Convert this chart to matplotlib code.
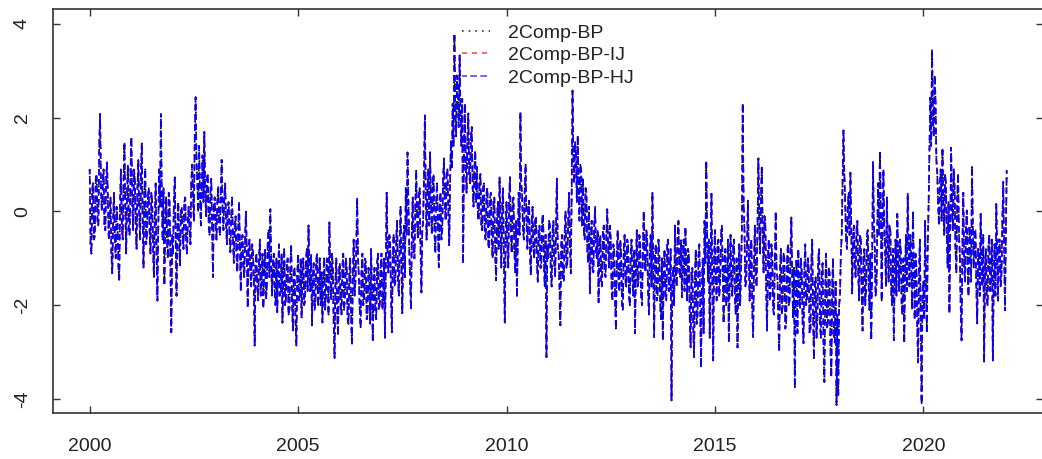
import numpy as np
import matplotlib
matplotlib.use("Agg")
import matplotlib.pyplot as plt

plt.rcParams['font.family'] = ['Liberation Sans', 'DejaVu Sans']

# Values, ~48 samples per year (weekly-ish)
y2000 = [0.9, -0.7, -0.9, 0.5, 0.6, -0.6, -0.5, 0.7, 0.8, -0.2, -0.3, 1.4,
         2.08, 0.5, 0.0, 0.6, 0.9, -0.3, -0.4, 0.7, 1.05, 0.2, -0.6, -0.1,
         0.3, -0.9, -1.32, -0.2, 0.4, -0.6, -1.0, 0.1, -0.2, -1.1, -1.5, 0.2,
         0.9, -0.3, -0.6, 0.6, 1.48, 0.1, -0.9, 0.3, 1.0, -0.4, -0.5, 0.8]
y2001 = [1.58, 0.2, -0.4, 0.9, 0.7, -0.3, -0.8, 0.5, 1.1, 0.0, -0.6, 0.8,
         1.45, -0.2, -1.2, 0.4, 0.9, -0.7, -0.5, 0.3, 0.5, -0.4, -0.9, 0.4,
         0.2, -0.8, -1.4, -0.1, 0.6, -0.9, -1.9, -0.3, 0.9, 0.1, 2.08, 0.4,
         -0.6, 0.5, -1.58, -0.4, 0.3, -0.6, -1.0, 0.4, 0.2, -1.2, -2.58, -0.5]
y2002 = [-0.9, 0.2, 0.73, -0.6, -1.8, -0.4, 0.2, -0.7, -1.15, 0.0, 0.1, -0.5,
         -0.8, 0.2, 0.3, -0.6, -0.9, -0.2, 0.1, -0.3, -0.7, 0.6, 1.0, 0.3,
         -0.2, 1.6, 2.44, 1.1, 0.6, 0.0, 1.4, 0.4, -0.3, 0.6, 1.2, 0.2,
         1.7, 0.5, -0.1, 0.7, 0.8, -0.2, -0.5, 0.4, 0.7, -0.3, -1.4, 0.2]
y2003 = [0.3, -0.2, -0.6, 0.2, 0.55, -0.3, -0.5, 0.4, 1.1, 0.1, -0.4, 0.3,
         0.6, -0.2, -0.7, 0.1, 0.2, -0.5, -0.87, -0.1, 0.3, -0.6, -1.1, -0.3,
         -0.1, -0.9, -1.3, -0.4, 0.2, -0.8, -1.7, -0.6, -0.5, -1.2, -1.4, -0.5,
         0.0, -1.0, -2.05, -0.8, -0.6, -1.3, -1.6, -0.7, -0.8, -1.5, -2.86, -1.1]
y2004 = [-0.9, -1.6, -1.9, -1.0, -0.6, -1.8, -1.5, -0.9, -2.05, -1.2, -0.8, -1.9,
         -1.6, -0.7, -0.4, -1.4, 0.05, -1.0, -1.8, -1.1, -0.9, -1.7, -2.0, -1.0,
         -2.15, -1.3, -0.7, -1.8, -1.7, -0.9, -2.37, -1.4, -0.8, -2.0, -1.9, -1.1,
         -1.0, -2.2, -2.1, -1.2, -0.7, -1.9, -2.54, -1.3, -1.2, -2.3, -2.86, -1.4]
y2005 = [-0.9, -1.9, -1.8, -1.0, -2.26, -1.3, -1.0, -2.0, -1.9, -1.1, -0.8, -1.7,
         -0.3, -1.2, -1.7, -0.9, -2.43, -1.4, -1.1, -2.1, -1.9, -1.0, -0.9, -2.0,
         -1.6, -1.0, -2.0, -1.3, -2.37, -1.5, -1.0, -2.1, -1.8, -1.0, -1.1, -2.2,
         -0.23, -1.2, -1.9, -0.9, -1.2, -2.4, -3.13, -1.5, -1.0, -2.2, -2.64, -1.3]
y2006 = [-1.1, -2.0, -2.2, -1.2, -0.9, -2.1, -1.8, -1.0, -1.2, -2.3, -2.4, -1.3,
         -1.0, -2.2, -2.86, -1.4, -0.6, -1.8, -1.5, -0.8, 0.3, -1.0, -1.4, -2.1,
         -2.47, -1.3, -0.9, -2.0, -1.9, -1.0, -1.1, -2.3, -2.2, -1.2, -1.3, -2.4,
         -0.8, -1.6, -2.79, -1.5, -1.2, -2.2, -2.3, -1.1, -0.9, -2.1, -2.0, -1.2]
y2007 = [-0.9, -2.1, -1.9, -1.0, -2.7, -1.2, 0.4, -0.9, -1.3, -0.5, -0.6, -1.8,
         -2.58, -1.0, -0.5, -1.6, -1.5, -0.6, -0.2, -1.4, -1.8, -0.7, 0.1, -1.2,
         -2.17, -0.6, -0.3, -1.4, 0.5, -0.5, 1.26, 0.2, -0.8, -1.5, -2.07, -0.4,
         0.3, -0.9, -1.0, 0.1, 0.87, -0.2, -0.6, 0.3, 0.5, -0.8, -1.73, -0.4]
y2008 = [-0.2, 0.8, 2.05, 0.3, -0.6, 0.5, 0.9, -0.3, 1.26, 0.2, -0.5, 0.6,
         0.8, -0.4, -0.9, 0.2, 0.6, -0.3, -1.19, 0.1, 0.4, -0.6, -0.4, 0.7,
         1.13, 0.1, -0.2, 0.8, 0.9, 0.0, -0.72, 0.6, 1.5, 0.9, 2.3, 1.4,
         3.8, 2.2, 1.6, 2.9, 2.6, 1.8, 3.33, 2.1, 1.4, 2.4, -1.11, 1.2]
y2009 = [2.3, 1.0, 0.4, 1.5, 2.09, 0.8, 0.6, 1.6, 1.8, 0.5, 0.1, 0.9,
         1.3, 0.2, 0.95, -0.1, -0.2, 0.7, 0.8, -0.3, -0.4, 0.5, 0.6, -0.5,
         -0.6, 0.4, 0.5, -0.7, -0.8, 0.3, 0.4, -0.6, -1.0, 0.2, 0.3, -0.9,
         -1.47, -0.2, 0.2, -0.8, 0.73, -0.3, -1.2, 0.1, 0.5, -0.9, -2.37, -0.5]
y2010 = [0.2, -0.7, -1.2, 0.3, 0.73, -0.5, -0.9, 0.2, 0.3, -0.8, -1.3, -0.2,
         -1.83, -0.6, 0.4, -0.5, 2.12, 0.6, 0.3, -0.4, -0.6, 0.5, 1.0, -0.2,
         -0.8, 0.1, 0.23, -0.9, -1.36, -0.3, 0.1, -0.8, -1.0, -0.2, -0.1, -1.1,
         -1.5, -0.4, -0.3, -1.2, -1.2, -0.2, -0.05, -1.0, -1.6, -0.5, -3.11, -0.7]
y2011 = [-1.0, -0.2, -0.3, -1.3, -1.6, -0.4, -0.2, -1.1, -1.4, -0.3, 0.7, -0.8,
         -0.9, -1.6, -2.43, -0.7, -0.5, -1.4, -1.5, -0.4, 0.0, -1.2, -1.1, -0.2,
         0.4, -0.7, -1.32, 0.3, 2.58, 1.2, 0.6, 1.5, 1.2, 0.2, 1.62, 0.5,
         -0.2, 1.0, 0.9, -0.3, 0.73, -0.4, -0.6, 0.5, 0.4, -0.8, -1.1, 0.1]
y2012 = [-1.75, -0.6, -0.2, -1.2, -1.3, -0.3, 0.1, -0.9, -1.0, -0.4, -1.94, -0.8,
         -0.5, -1.5, -1.6, -0.4, -0.3, -1.3, -1.4, -0.5, 0.05, -0.8, -1.2, -0.3,
         -0.6, -1.6, -1.9, -0.7, -0.8, -1.9, -2.5, -1.0, -0.4, -1.4, -1.7, -0.6,
         -0.9, -2.0, -2.1, -0.8, -0.5, -1.5, -1.6, -0.6, -0.7, -1.8, -2.0, -0.9]
y2013 = [-0.6, -1.5, -1.8, -0.8, -2.6, -1.2, -0.4, -1.6, -1.5, -0.5, -0.7, -1.8,
         -2.0, -0.9, 0.0, -1.0, -1.3, -0.4, -0.6, -1.7, -2.2, -0.9, -0.5, -1.6,
         0.4, -1.2, -2.68, -0.9, -0.7, -1.9, -1.8, -0.6, -0.9, -2.0, -2.3, -1.0,
         -2.75, -1.3, -0.8, -1.8, -1.9, -0.7, -0.6, -1.7, -1.5, -0.8, -4.03, -1.6]
y2014 = [-1.2, -2.0, -0.3, -1.4, -1.6, -0.5, -0.2, -1.3, -1.4, -0.6, -1.83, -0.9,
         -0.6, -1.7, -0.33, -1.2, -1.9, -0.8, -0.9, -2.3, -2.9, -1.3, -1.2, -2.5,
         -3.11, -1.4, -0.8, -2.4, -2.2, -1.0, -0.7, -2.1, -3.33, -1.5, -1.0, -2.6,
         -0.2, -1.1, 1.09, -0.4, -1.5, -0.6, -2.7, -1.2, 0.38, -1.6, -3.18, -1.0]
y2015 = [-0.4, -1.5, -1.9, -0.7, -0.6, -1.8, -1.5, -0.5, -0.3, -1.4, -2.39, -1.0,
         -0.8, -2.0, -1.7, -0.6, -2.79, -1.3, -0.5, -1.6, -1.8, -0.7, -0.6, -1.9,
         -2.2, -1.0, -2.9, -1.4, -0.7, -2.0, -1.3, -0.4, 2.3, 0.2, -0.4, -1.6,
         -1.5, -0.6, 0.23, -1.0, -1.9, -0.8, -0.6, -2.1, -2.68, -1.1, -0.3, -1.4]
y2016 = [-1.6, -0.4, 1.13, -0.2, -0.9, 0.3, 0.98, -0.5, -1.3, -0.1, -0.2, -1.6,
         -2.54, -1.0, -0.6, -1.9, -1.8, -0.7, -0.9, -2.1, -2.2, -1.0, 0.0, -1.3,
         -1.4, -2.3, -3.0, -1.2, -0.8, -2.2, -2.0, -0.9, -1.0, -2.5, -2.4, -1.1,
         -0.7, -2.0, -1.9, -0.8, -0.13, -1.4, -2.3, -1.2, -3.75, -1.6, -1.0, -2.6]
y2017 = [-0.8, -1.8, -2.1, -1.0, -1.3, -2.4, -2.81, -1.2, -0.7, -2.0, -1.9, -1.0,
         -1.2, -2.6, -2.5, -1.1, -0.6, -2.2, -3.13, -1.5, -1.4, -2.7, -2.3, -1.0,
         -0.8, -2.4, -2.7, -1.3, -1.1, -2.8, -3.64, -1.7, -0.9, -2.5, -2.4, -1.2,
         -1.3, -2.9, -3.54, -1.6, -1.0, -2.6, -2.8, -1.5, -4.13, -2.2, -3.96, -2.0]
y2018 = [-1.8, -0.9, -0.5, 0.6, 1.73, 0.8, 0.2, -0.6, -0.8, 0.1, 0.4, -0.5,
         0.83, -0.3, -1.75, -0.6, -0.3, -1.2, -1.4, -0.4, -0.2, -1.3, -1.9, -0.5,
         -0.6, -1.8, -2.54, -1.0, -0.8, -2.0, -1.7, -0.5, -0.4, -1.6, -2.1, -0.9,
         -2.75, -1.2, 1.05, -0.2, -0.7, -1.8, -1.6, -0.3, 0.6, -0.5, 1.3, 0.2]
y2019 = [-1.9, -0.4, 0.9, -0.3, -0.8, -1.6, 0.3, -0.7, -1.5, -0.3, -0.4, -1.7,
         -2.0, -0.8, -2.75, -1.3, -0.6, -1.8, -0.05, -1.0, -1.7, -0.6, -0.8, -2.0,
         -2.2, -1.0, -2.81, -1.2, -0.5, -1.7, 0.38, -0.8, -1.6, -0.5, -0.9, -2.1,
         0.02, -1.1, -2.3, -0.9, -1.2, -2.5, -3.22, -1.3, -0.6, -2.4, -4.09, -1.8]
y2020 = [-1.5, -2.3, -0.2, -1.4, -2.6, -0.8, 0.1, 1.2, 2.43, 1.4, 3.47, 2.0,
         1.6, 2.9, 2.4, 1.1, 0.83, 0.2, -0.3, 0.6, 0.9, -0.2, 1.36, 0.3,
         -0.5, 0.8, 0.6, -0.6, -1.2, 0.2, -2.17, -0.4, 1.36, 0.1, -0.4, 0.9,
         0.5, -0.8, -1.3, 0.3, 0.8, -0.5, -0.9, -2.0, -2.75, -0.7, 0.4, -1.2]
y2021 = [-1.5, -0.4, 0.02, -1.2, -1.8, -0.3, -0.6, -1.5, 0.95, -0.3, -1.2, -0.4,
         -0.4, -1.6, -2.39, -0.8, -0.9, -1.8, -0.05, -1.0, -1.6, -0.5, -3.22, -1.2,
         -0.8, -1.9, -2.0, -0.7, -0.5, -1.7, -1.4, -0.6, -3.18, -1.5, -0.7, -1.8,
         0.16, -0.9, -1.9, -0.6, -0.6, -1.6, -1.3, -0.2, 0.63, -0.8, -2.11, -0.5]
y2022 = [0.88]

years = list(range(2000, 2023))
series_years = [y2000, y2001, y2002, y2003, y2004, y2005, y2006, y2007, y2008,
                y2009, y2010, y2011, y2012, y2013, y2014, y2015, y2016, y2017,
                y2018, y2019, y2020, y2021, y2022]

bp = np.concatenate(series_years)
bp_ij = bp.copy()   # visually indistinguishable from 2Comp-BP at this scale
bp_hj = bp.copy()
t = np.concatenate([yr + np.arange(len(v)) / max(len(v), 48)
                    for yr, v in zip(years, series_years)])

labels = ['2Comp-BP', '2Comp-BP-IJ', '2Comp-BP-HJ']
xticks = [2000, 2005, 2010, 2015, 2020]
yticks = [-4, -2, 0, 2, 4]

W, H = 1042, 459
fig = plt.figure(figsize=(W / 100, H / 100), dpi=100)
ax = fig.add_axes([53 / W, 46 / H, (1043.4 - 53) / W, (413 - 9) / H])

ax.plot(t, bp, color='black', lw=1.2, linestyle=(0, (1, 3)), label=labels[0])
ax.plot(t, bp_ij, color='red', lw=1.2, linestyle=(0, (3, 3)), label=labels[1])
ax.plot(t, bp_hj, color='blue', lw=1.2, linestyle=(1, (4, 2)), label=labels[2])

ax.set_xlim(1999.12, 2022.88)
ax.set_ylim(-4.3, 4.32)
ax.set_xticks(xticks)
ax.set_yticks(yticks)
ax.set_xticklabels([str(v) for v in xticks])
ax.set_yticklabels([str(v) for v in yticks])

ax.tick_params(axis='both', direction='in', length=5, width=1.0, color='#333333',
               top=True, right=True, labelsize=14, labelcolor='#222222')
ax.tick_params(axis='x', pad=18)
ax.tick_params(axis='y', pad=16)
plt.setp(ax.get_yticklabels(), rotation=90, va='center')

for s in ax.spines.values():
    s.set_linewidth(1.2)
    s.set_color('#333333')

leg = ax.legend(loc='upper left', bbox_to_anchor=(462 / W, 1 - 24 / H),
                bbox_transform=fig.transFigure, frameon=False, borderpad=0,
                borderaxespad=0, handlelength=1.45, handletextpad=0.9,
                labelspacing=0.25, fontsize=14)
for line, alpha in zip(leg.get_lines(), [0.8, 0.7, 0.7]):
    line.set_alpha(alpha)
for txt in leg.get_texts():
    txt.set_color('#222222')

fig.savefig('out.png', dpi=100)
